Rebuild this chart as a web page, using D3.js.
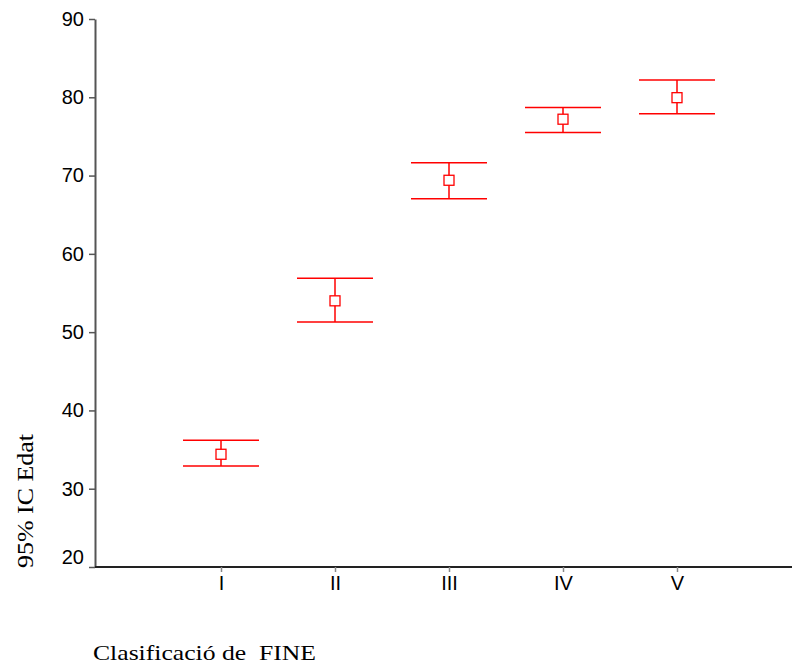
<!DOCTYPE html>
<html>
<head>
<meta charset="utf-8">
<script src="https://cdn.jsdelivr.net/npm/d3@7"></script>
<style>
  body { margin: 0; background: #fff; }
  svg { display: block; }
</style>
</head>
<body>
<svg id="chart" width="792" height="666"></svg>
<script>
// dades llegides del gràfic
var categories = ["I", "II", "III", "IV", "V"];
var means = [34.4, 54.0, 69.4, 77.2, 79.95];
var lower = [32.9, 51.3, 67.05, 75.5, 77.9];
var upper = [36.2, 56.9, 71.65, 78.7, 82.2];
var yTicks = [20, 30, 40, 50, 60, 70, 80, 90];

var svg = d3.select("#chart");

var x = d3.scalePoint()
    .domain(categories)
    .range([221, 677]);

var y = d3.scaleLinear()
    .domain([20, 90])
    .range([567, 19]);

var rows = categories.map(function(c, i) {
  return { cat: c, mean: means[i], lo: lower[i], hi: upper[i] };
});

// eix Y
var yAxis = svg.append("g")
    .attr("transform", "translate(95,0)")
    .call(d3.axisLeft(y).tickValues(yTicks).tickSize(6).tickSizeOuter(0).tickPadding(5));
yAxis.select(".domain").attr("stroke", "#555").attr("stroke-width", 2);
yAxis.selectAll(".tick line").attr("stroke", "#555").attr("stroke-width", 1.5);
yAxis.selectAll(".tick text")
    .style("font-family", "'Liberation Sans', Arial, sans-serif")
    .style("font-size", "20px")
    .attr("fill", "#000")
    .attr("dy", function(d) { return d === 20 ? "-0.2em" : "0.32em"; });

// eix X
svg.append("line")
    .attr("x1", 95).attr("x2", 792)
    .attr("y1", y(20)).attr("y2", y(20))
    .attr("stroke", "#222")
    .attr("stroke-width", 2);

var xAxis = svg.append("g")
    .attr("transform", "translate(0," + y(20) + ")")
    .call(d3.axisBottom(x).tickSize(5).tickSizeOuter(0).tickPadding(4));
xAxis.select(".domain").remove();
xAxis.selectAll(".tick line").attr("stroke", "#888").attr("stroke-width", 1.5);
xAxis.selectAll(".tick text")
    .style("font-family", "'Liberation Sans', Arial, sans-serif")
    .style("font-size", "20px")
    .attr("fill", "#000");

// barres d'error
var g = svg.append("g");
var capHalf = 38;

g.selectAll(".vline")
  .data(rows)
  .enter()
  .append("line")
  .attr("x1", function(d) { return x(d.cat); })
  .attr("x2", function(d) { return x(d.cat); })
  .attr("y1", function(d) { return y(d.lo); })
  .attr("y2", function(d) { return y(d.hi); })
  .attr("stroke", "#ff0000")
  .attr("stroke-width", 1.5);

g.selectAll(".capHi")
  .data(rows)
  .enter()
  .append("line")
  .attr("x1", function(d) { return x(d.cat) - capHalf; })
  .attr("x2", function(d) { return x(d.cat) + capHalf; })
  .attr("y1", function(d) { return y(d.hi); })
  .attr("y2", function(d) { return y(d.hi); })
  .attr("stroke", "#ff0000")
  .attr("stroke-width", 1.5);

g.selectAll(".capLo")
  .data(rows)
  .enter()
  .append("line")
  .attr("x1", function(d) { return x(d.cat) - capHalf; })
  .attr("x2", function(d) { return x(d.cat) + capHalf; })
  .attr("y1", function(d) { return y(d.lo); })
  .attr("y2", function(d) { return y(d.lo); })
  .attr("stroke", "#ff0000")
  .attr("stroke-width", 1.5);

g.selectAll("rect")
  .data(rows)
  .enter()
  .append("rect")
  .attr("x", function(d) { return x(d.cat) - 5; })
  .attr("y", function(d) { return y(d.mean) - 5; })
  .attr("width", 10)
  .attr("height", 10)
  .attr("fill", "#fff")
  .attr("stroke", "#ff0000")
  .attr("stroke-width", 1.3);

// títols dels eixos
svg.append("text")
    .attr("x", 93)
    .attr("y", 660)
    .attr("textLength", 223)
    .attr("lengthAdjust", "spacingAndGlyphs")
    .style("font-family", "'Liberation Serif', 'Times New Roman', serif")
    .style("font-size", "22px")
    .style("white-space", "pre")
    .text("Clasificació de  FINE");

svg.append("text")
    .attr("transform", "translate(33,568) rotate(-90)")
    .attr("x", 0)
    .attr("y", 0)
    .attr("textLength", 134)
    .attr("lengthAdjust", "spacingAndGlyphs")
    .style("font-family", "'Liberation Serif', 'Times New Roman', serif")
    .style("font-size", "23px")
    .text("95% IC Edat");
</script>
</body>
</html>
